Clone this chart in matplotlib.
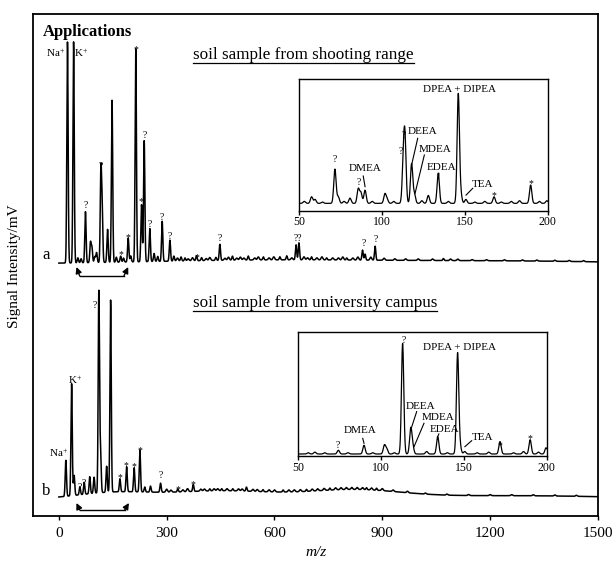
import numpy as np
import matplotlib.pyplot as plt

plt.rcParams['font.family'] = 'Liberation Serif'
plt.rcParams['mathtext.fontset'] = 'custom'
plt.rcParams['mathtext.rm'] = 'Liberation Serif'
plt.rcParams['mathtext.it'] = 'Liberation Serif:italic'

# ---- trace a: soil sample from shooting range (peak m/z, height above baseline)
a_mz = [24, 41, 53, 62, 74, 88, 92, 100, 105, 117, 120.5, 135.5, 148, 160, 172, 180,
        193, 200, 214, 230, 237.5, 253, 265, 275, 287.5, 309, 320, 340, 351, 383, 397,
        437, 448, 483, 527, 569, 615, 634, 660, 668, 703, 745, 801, 845, 852, 880, 1070]
a_h = [221, 221, 5, 4, 51, 20, 15, 6, 10, 90, 52, 33, 162, 5, 6, 4,
       24, 6, 213, 57, 121, 33, 8, 5, 40, 21, 5, 4, 3, 5, 3,
       3, 16, 4, 4, 3, 3, 4, 15, 17, 3, 2, 2, 10, 6, 14, 2]
# small baseline ripples of trace a
a_rip_mz = [330, 360, 372, 410, 420, 462, 472, 495, 505, 515, 545, 555, 585, 598, 648,
            682, 692, 718, 732, 762, 778, 790, 818, 832, 868, 905, 935, 965, 1000, 1040,
            1090, 1110, 1150, 1190, 1240, 1290, 1330, 1380, 1420, 1460]
a_rip_h = [3, 2, 3, 2, 3, 2, 3, 2, 3, 2, 2, 3, 2, 3, 2,
           3, 2, 2, 3, 2, 2, 3, 2, 3, 3, 2, 1.5, 1.5, 1.5, 1.5,
           1.5, 1.5, 1, 1, 1, 1, 1, 1, 1, 1]
a_base_mz = [600, 1300]
a_base_h = [4, 2.5]
a_base_w = [350, 300]

# ---- trace b: soil sample from university campus
b_mz = [19.5, 35.5, 42.5, 58.5, 70.5, 86, 98, 111.3, 116, 133, 144, 170, 188.5,
        209.5, 225.5, 239, 255, 283, 331, 374, 420, 453, 484, 522, 568, 624, 689,
        754, 856, 884]
b_h = [36, 112, 20, 8, 12, 17, 16, 202, 42, 26, 192, 13, 25,
       24, 42, 5, 6, 9, 3, 7, 2, 2, 2, 4, 2, 2, 2,
       2, 2, 2]
b_rip_mz = [300, 312, 345, 358, 395, 405, 432, 442, 468, 500, 510, 540, 552, 585, 600,
            640, 655, 672, 705, 720, 738, 770, 785, 800, 815, 830, 845, 870, 900, 930,
            970, 1020, 1080, 1140, 1200, 1260, 1320, 1380, 1440]
b_rip_h = [3, 2, 2, 3, 2, 2, 2, 2, 2, 2, 2, 2, 2, 2, 2,
           2, 2, 2, 2, 2, 2, 2, 2, 2, 2, 2, 2, 2, 2, 1.5,
           1.5, 1, 1, 1, 1, 1, 1, 1, 1]
b_base_mz = [150, 450, 820, 1250]
b_base_h = [6, 8, 8, 3.3]
b_base_w = [100, 150, 130, 300]

# ---- insets (m/z 50-200, relative intensity)
ia_mz = [53, 57.4, 59.5, 64, 71.5, 73.5, 77, 80.6, 85.6, 87.2, 89.7, 94, 101.7, 103,
         107, 112.8, 113.8, 117.8, 119.5, 124, 127.9, 133.9, 140, 146, 147.5, 150.6,
         156, 162, 167.6, 172, 178, 183, 189.7, 195, 199.5]
ia_h = [0.015, 0.05, 0.03, 0.01, 0.26, 0.05, 0.015, 0.04, 0.11, 0.08, 0.1, 0.015,
        0.07, 0.03, 0.015, 0.28, 0.46, 0.3, 0.07, 0.02, 0.06, 0.23, 0.015, 0.83, 0.07,
        0.03, 0.01, 0.015, 0.05, 0.01, 0.015, 0.02, 0.14, 0.015, 0.02]
ib_mz = [56, 60, 66, 74.2, 80, 89.7, 95, 102, 103.4, 108, 113, 117.9, 119.1, 127.5,
         134.2, 140, 146.2, 147.7, 150.5, 158, 165, 171.8, 180, 186, 190, 195, 199.6]
ib_h = [0.01, 0.015, 0.01, 0.03, 0.01, 0.07, 0.01, 0.07, 0.04, 0.01, 0.89, 0.2, 0.06,
        0.02, 0.14, 0.01, 0.81, 0.06, 0.02, 0.01, 0.015, 0.1, 0.01, 0.02, 0.115,
        0.015, 0.05]

a_offset, b_offset = 252, 17


def spectrum(x, mz, h, sig):
    y = np.zeros_like(x)
    sig = np.broadcast_to(sig, len(mz))
    for m, hh, s in zip(mz, h, sig):
        y += hh * np.exp(-0.5 * ((x - m) / s) ** 2)
    return y


fig = plt.figure(figsize=(6.14, 5.61), dpi=100)
ax = fig.add_axes([0.0537, 0.0802, 0.9202, 0.8948])

x = np.arange(0, 1500.01, 0.5)
ya = (a_offset + spectrum(x, a_mz, a_h, 1.8) + spectrum(x, a_rip_mz, a_rip_h, 2.5)
      + spectrum(x, a_base_mz, a_base_h, a_base_w))
yb = (b_offset + spectrum(x, b_mz, b_h, 1.8) + spectrum(x, b_rip_mz, b_rip_h, 2.5)
      + spectrum(x, b_base_mz, b_base_h, b_base_w))
ax.plot(x, ya, color='black', lw=1.1)
ax.plot(x, yb, color='black', lw=1.1)

ax.set_xlim(-72, 1500)
ax.set_ylim(0, 502)
ax.set_yticks([])
ax.set_xticks([0, 300, 600, 900, 1200, 1500])
ax.tick_params(axis='x', direction='out', length=3, width=1, labelsize=11, pad=5)
for s in ax.spines.values():
    s.set_linewidth(1.3)

fig.text(0.0244, 0.525, 'Signal Intensity/mV', rotation=90, ha='center', va='center', fontsize=11)
fig.text(0.514, 0.0143, 'm/z', ha='center', va='center', fontsize=11, style='italic')

ax.text(-45, 484, 'Applications', fontsize=12, fontweight='bold', va='center')
ax.text(-36, 261, 'a', fontsize=12, ha='center', va='center')
ax.text(-36, 25, 'b', fontsize=12, ha='center', va='center')

small = 7
ax.text(-8, 463, 'Na$^{+}$', fontsize=8, ha='center', va='center')
ax.text(61, 463, 'K$^{+}$', fontsize=8, ha='center', va='center')
ax.text(0, 63, 'Na$^{+}$', fontsize=8, ha='center', va='center')
ax.text(44, 136, 'K$^{+}$', fontsize=8, ha='center', va='center')

# peak markers (symbol, m/z, y)
a_marks = [('?', 75, 311), ('?', 117, 350), ('*', 172, 264), ('*', 193, 281), ('*', 214, 469),
           ('*', 228, 317), ('?', 239, 381), ('?', 253, 292), ('?', 287.5, 299), ('?', 309, 280),
           ('*', 383, 261), ('?', 448, 278), ('??', 664, 278), ('?', 849, 273), ('?', 881, 277)]
b_marks = [('?', 100, 211), ('?', 58.4, 29), ('?', 70.4, 33), ('*', 170, 41), ('*', 188, 53),
           ('*', 210, 52), ('*', 225, 68), ('?', 283, 41), ('*', 330, 29), ('*', 374, 34)]
for sym, mx, my in a_marks + b_marks:
    dy = -3 if sym == '*' else 0
    ax.text(mx, my + dy, sym, fontsize=small, ha='center', va='center')


def bracket(ax, pts):
    (x0, yt), (x1, yb_), (x2, _), (x3, _) = pts
    ax.plot([x1, x2], [yb_, yb_], color='black', lw=1.0)
    for xs, xe in [(x1, x0), (x2, x3)]:
        ax.annotate('', xy=(xe, yt), xytext=(xs, yb_),
                    arrowprops=dict(arrowstyle='-|>', color='black', lw=1.0,
                                    mutation_scale=9, shrinkA=0, shrinkB=0))


bracket(ax, [(49, 249), (58, 240), (181, 240), (193, 249)])
bracket(ax, [(49, 13), (58, 6), (183, 6), (195, 13)])

# titles with underline
fig.canvas.draw()
r = fig.canvas.get_renderer()
for txt, ty, uy in [('soil sample from shooting range', 461, 453),
                    ('soil sample from university campus', 213, 205)]:
    t = ax.text(373, ty, txt, fontsize=12.3, va='center')
    bb = t.get_window_extent(r).transformed(ax.transData.inverted())
    ax.plot([bb.x0, bb.x1], [uy, uy], color='black', lw=0.9)


def inset(rect, mz, h, base, labels, leaders):
    ia = fig.add_axes(rect)
    xi = np.arange(50, 200.01, 0.1)
    yi = base + spectrum(xi, mz, h, 0.7)
    ia.plot(xi, yi, color='black', lw=0.9)
    ia.set_xlim(50, 200)
    ia.set_ylim(0, 1)
    ia.set_yticks([])
    ia.set_xticks([50, 100, 150, 200])
    ia.tick_params(axis='x', direction='out', length=3, width=1, labelsize=8.5, pad=1)
    for s in ia.spines.values():
        s.set_linewidth(1.0)
    for txt, lx, ly in labels:
        fs = small if txt in ('?', '*') else 8
        dy = -0.02 if txt == '*' else 0
        ia.text(lx, ly + dy, txt, fontsize=fs, ha='center', va='center')
    for (x0, y0), (x1, y1) in leaders:
        ia.plot([x0, x1], [y0, y1], color='black', lw=0.8)


inset([0.4875, 0.6244, 0.4045, 0.2342], ia_mz, ia_h, 0.056,
      [('?', 71.5, 0.386), ('DMEA', 89.7, 0.322), ('?', 85.6, 0.213), ('?', 112.8, 0.569),
       ('?', 111.4, 0.449), ('DEEA', 124.5, 0.602), ('MDEA', 131.9, 0.467), ('EDEA', 136, 0.33),
       ('DPEA + DIPEA', 146.6, 0.924), ('TEA', 160.5, 0.2), ('*', 167.6, 0.132), ('*', 189.7, 0.228)],
      [((88.6, 0.264), (89.7, 0.183)), ((121.5, 0.551), (117.8, 0.348)),
       ((125.5, 0.424), (119.9, 0.132)), ((134.3, 0.284), (133.9, 0.246)),
       ((154.7, 0.17), (150.7, 0.119))])

inset([0.4858, 0.1872, 0.4046, 0.2216], ib_mz, ib_h, 0.016,
      [('?', 73.8, 0.088), ('DMEA', 87.6, 0.204), ('?', 113.4, 0.93), ('DEEA', 123.9, 0.397),
       ('MDEA', 134.5, 0.308), ('EDEA', 138, 0.217), ('DPEA + DIPEA', 147.2, 0.871),
       ('TEA', 161.3, 0.147), ('*', 171.8, 0.107), ('*', 189.9, 0.161)],
      [((88.9, 0.142), (89.7, 0.102)), ((121.5, 0.357), (118, 0.214)),
       ((125.9, 0.263), (119.9, 0.075)), ((134.9, 0.177), (134.1, 0.155)),
       ((154.7, 0.123), (150.6, 0.075))])

fig.savefig('out.png', dpi=100)
